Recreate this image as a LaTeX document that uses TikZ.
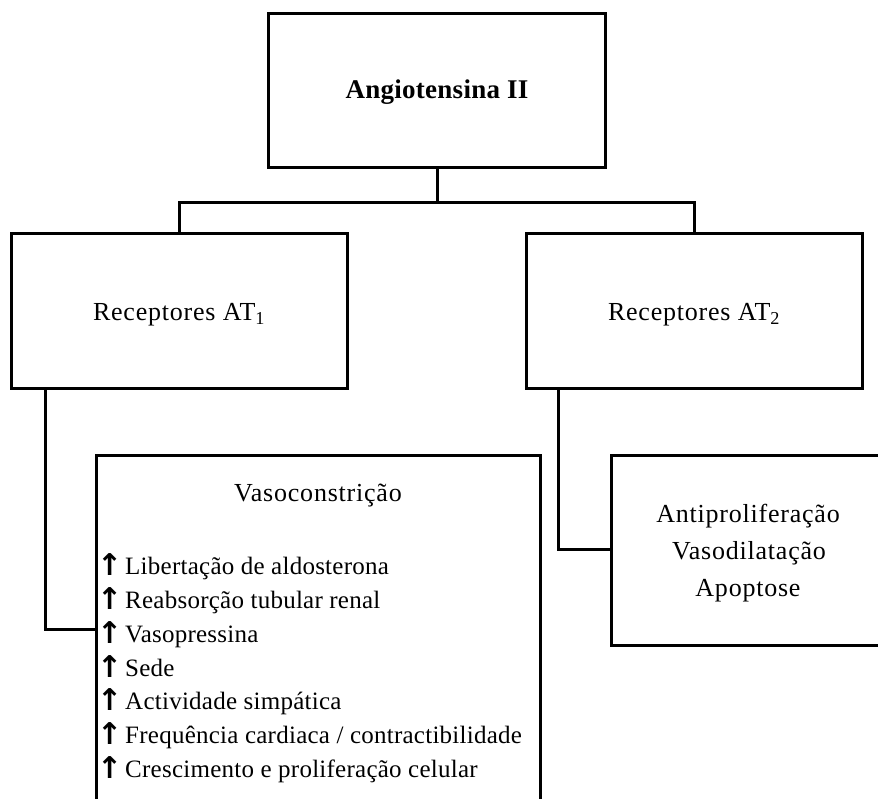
\documentclass[tikz,border=0pt]{standalone}
\usepackage{fontspec}
\setmainfont{Liberation Serif}
\newfontfamily\arrowfont{DejaVu Sans}
\usetikzlibrary{calc}
\begin{document}
\begin{tikzpicture}[x=1pt,y=-1pt,
  box/.style={draw, line width=3pt, inner sep=0pt},
  conn/.style={line width=3pt},
  head/.style={anchor=base, inner sep=0pt, font=\fontsize{26}{30}\selectfont\addfontfeature{LetterSpace=3}},
  bold/.style={anchor=base, inner sep=0pt, font=\fontsize{27}{30}\selectfont\bfseries\addfontfeature{LetterSpace=1}},
  item/.style={anchor=base west, inner sep=0pt, font=\fontsize{25}{30}\selectfont\addfontfeature{LetterSpace=1}},
  up/.style={anchor=base west, inner sep=0pt, font=\arrowfont\bfseries\fontsize{30}{30}\selectfont}]
\useasboundingbox (0,0) rectangle (878,799);
\clip (0,0) rectangle (878,799);
\fill[white] (0,0) rectangle (878,799);
% boxes
\node[box, minimum width=337pt, minimum height=154pt] (ang) at (437,91) {};
\node[box, minimum width=336pt, minimum height=155pt] (rec1) at (179,311.5) {};
\node[box, minimum width=336pt, minimum height=155pt] (rec2) at (694,311.5) {};
\node[box, minimum width=444pt, minimum height=385pt] (vaso) at (318,647.5) {};
\node[box, minimum width=274pt, minimum height=190pt] (apo) at (748,550) {};
% texts
\node[bold] (angt) at (437,99) {Angiotensina II};
\node[head] (rec1t) at (179,321) {Receptores AT\textsubscript{1}};
\node[head] (rec2t) at (694,321) {Receptores AT\textsubscript{2}};
\node[head] (vasot) at (318,501) {Vasoconstrição};
\node[head] (apo1) at (748,522) {Antiproliferação};
\node[head] (apo2) at (749,559) {Vasodilatação};
\node[head] (apo3) at (748,596) {Apoptose};
% list
\node[up] (u1) at (97,575) {↑};
\node[item] (t1) at (125,574) {Libertação de aldosterona};
\node[up] (u2) at (97,609) {↑};
\node[item] (t2) at (125,608) {Reabsorção tubular renal};
\node[up] (u3) at (97,643) {↑};
\node[item] (t3) at (125,642) {Vasopressina};
\node[up] (u4) at (97,677) {↑};
\node[item] (t4) at (125,676) {Sede};
\node[up] (u5) at (97,710) {↑};
\node[item] (t5) at (125,709) {Actividade simpática};
\node[up] (u6) at (97,744) {↑};
\node[item] (t6) at (125,743) {Frequência cardiaca / contractibilidade};
\node[up] (u7) at (97,778) {↑};
\node[item] (t7) at (125,777) {Crescimento e proliferação celular};
% connectors
\coordinate (hub) at ($(ang.south)+(0,33)$);
\coordinate (vasoin) at ($(vaso.north west)+(0,176)$);
\coordinate (apoin) at ($(apo.north west)+(0,96)$);
\draw[conn] (ang.south) -- (hub);
\draw[conn] (rec1.north) |- (hub) -| (rec2.north);
\draw[conn] ($(rec1.south west)+(36,0)$) |- (vasoin);
\draw[conn] ($(rec2.south west)+(34,0)$) |- (apoin);
\end{tikzpicture}
\end{document}
